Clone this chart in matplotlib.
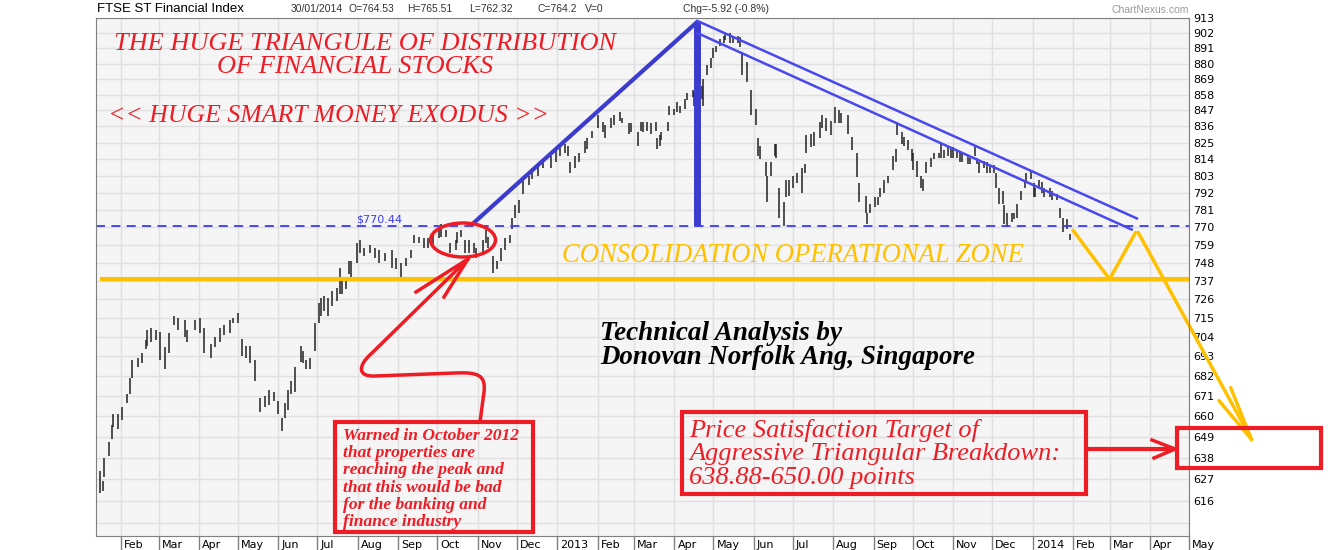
import matplotlib
matplotlib.use("Agg")
import matplotlib.pyplot as plt
import matplotlib.dates as mdates
import pandas as pd
from matplotlib.ticker import FixedLocator, NullLocator, FuncFormatter
from matplotlib.patches import Ellipse, Rectangle, PathPatch
from matplotlib.path import Path
from matplotlib.transforms import ScaledTranslation

# price bars (high / low per bar)
dates = [
    "2012-01-13", "2012-01-16", "2012-01-18", "2012-01-19", "2012-01-23", "2012-01-25", "2012-01-26", "2012-01-30",
    "2012-02-02", "2012-02-06", "2012-02-08", "2012-02-10", "2012-02-14", "2012-02-17", "2012-02-20", "2012-02-21", "2012-02-24", "2012-02-28",
    "2012-03-02", "2012-03-06", "2012-03-09", "2012-03-13", "2012-03-16", "2012-03-21", "2012-03-23", "2012-03-29",
    "2012-04-02", "2012-04-05", "2012-04-10", "2012-04-13", "2012-04-17", "2012-04-20", "2012-04-25", "2012-04-27",
    "2012-05-01", "2012-05-04", "2012-05-07", "2012-05-10", "2012-05-14", "2012-05-18", "2012-05-22", "2012-05-25", "2012-05-29",
    "2012-06-01", "2012-06-04", "2012-06-06", "2012-06-08", "2012-06-11", "2012-06-14", "2012-06-18", "2012-06-20", "2012-06-22", "2012-06-25", "2012-06-29",
    "2012-07-02", "2012-07-04", "2012-07-06", "2012-07-09", "2012-07-12", "2012-07-16", "2012-07-18", "2012-07-20", "2012-07-23", "2012-07-25", "2012-07-27", "2012-07-31",
    "2012-08-03", "2012-08-06", "2012-08-10", "2012-08-14", "2012-08-17", "2012-08-22", "2012-08-27", "2012-08-30",
    "2012-09-03", "2012-09-07", "2012-09-11", "2012-09-13", "2012-09-17", "2012-09-21", "2012-09-24", "2012-09-28",
    "2012-10-02", "2012-10-04", "2012-10-08", "2012-10-11", "2012-10-15", "2012-10-16", "2012-10-19", "2012-10-22", "2012-10-25", "2012-10-29", "2012-10-31",
    "2012-11-05", "2012-11-07", "2012-11-09", "2012-11-13", "2012-11-16", "2012-11-19", "2012-11-22", "2012-11-26", "2012-11-27", "2012-11-30",
    "2012-12-03", "2012-12-06", "2012-12-10", "2012-12-13", "2012-12-17", "2012-12-21", "2012-12-27", "2012-12-31",
    "2013-01-03", "2013-01-07", "2013-01-09", "2013-01-11", "2013-01-15", "2013-01-18", "2013-01-22", "2013-01-24", "2013-01-28",
    "2013-02-01", "2013-02-05", "2013-02-07", "2013-02-11", "2013-02-14", "2013-02-18", "2013-02-20", "2013-02-25", "2013-02-27",
    "2013-03-04", "2013-03-06", "2013-03-08", "2013-03-11", "2013-03-14", "2013-03-18", "2013-03-19", "2013-03-21", "2013-03-22", "2013-03-27", "2013-03-28",
    "2013-04-01", "2013-04-03", "2013-04-05", "2013-04-09", "2013-04-11", "2013-04-15", "2013-04-16", "2013-04-22", "2013-04-23", "2013-04-26", "2013-04-29",
    "2013-05-01", "2013-05-03", "2013-05-06", "2013-05-09", "2013-05-10", "2013-05-14", "2013-05-16", "2013-05-20", "2013-05-21", "2013-05-23", "2013-05-27", "2013-05-30",
    "2013-06-03", "2013-06-04", "2013-06-06", "2013-06-10", "2013-06-11", "2013-06-14", "2013-06-17", "2013-06-18", "2013-06-20", "2013-06-24", "2013-06-26", "2013-06-28",
    "2013-07-01", "2013-07-04", "2013-07-08", "2013-07-10", "2013-07-11", "2013-07-15", "2013-07-17", "2013-07-22", "2013-07-23", "2013-07-26", "2013-07-30",
    "2013-08-02", "2013-08-05", "2013-08-07", "2013-08-12", "2013-08-15", "2013-08-19", "2013-08-21", "2013-08-26", "2013-08-27", "2013-08-29",
    "2013-09-02", "2013-09-04", "2013-09-06", "2013-09-09", "2013-09-12", "2013-09-16", "2013-09-18", "2013-09-19", "2013-09-23", "2013-09-24", "2013-09-27", "2013-09-30",
    "2013-10-01", "2013-10-04", "2013-10-07", "2013-10-09", "2013-10-11", "2013-10-15", "2013-10-17", "2013-10-21", "2013-10-23", "2013-10-25", "2013-10-28", "2013-10-30",
    "2013-11-01", "2013-11-04", "2013-11-06", "2013-11-08", "2013-11-12", "2013-11-14", "2013-11-18", "2013-11-19", "2013-11-21", "2013-11-25", "2013-11-27", "2013-11-29",
    "2013-12-02", "2013-12-04", "2013-12-06", "2013-12-09", "2013-12-10", "2013-12-12", "2013-12-16", "2013-12-18", "2013-12-20", "2013-12-23", "2013-12-26", "2013-12-27", "2013-12-31",
    "2014-01-02", "2014-01-03", "2014-01-06", "2014-01-08", "2014-01-10", "2014-01-14", "2014-01-16", "2014-01-20", "2014-01-22", "2014-01-24", "2014-01-27", "2014-01-30",
]
highs = [
    621, 631, 626, 638, 646, 655, 661, 661,
    665, 672, 681, 691, 692, 695, 702, 708, 709, 708,
    707, 698, 706, 716, 715, 714, 708, 714,
    715, 709, 700, 704, 709, 711, 714, 715,
    718, 703, 699, 699, 691, 670, 671, 674, 673,
    668, 659, 667, 674, 679, 687, 699, 696, 691, 692, 712,
    724, 727, 728, 727, 731, 733, 745, 739, 738, 749, 749, 760,
    762, 757, 759, 757, 756, 754, 756, 751,
    748, 751, 756, 765, 764, 763, 763, 766,
    769, 772, 768, 760, 762, 767, 768, 762, 762, 760, 757,
    762, 768, 764, 752, 749, 757, 763, 765, 776, 784,
    787, 800, 803, 808, 810, 814, 816, 821,
    823, 824, 823, 812, 816, 818, 826, 828, 833,
    844, 839, 837, 842, 844, 846, 842, 838, 838,
    832, 839, 839, 839, 838, 839, 828, 830, 832, 839, 850,
    848, 853, 850, 855, 859, 861, 860, 864, 869, 879, 884,
    891, 893, 898, 900, 902, 902, 900, 900, 899, 888, 881, 861,
    848, 828, 823, 812, 803, 812, 824, 824, 795, 786, 800, 800,
    803, 805, 808, 811, 830, 831, 832, 839, 844, 842, 840,
    849, 847, 845, 844, 829, 818, 798, 790, 779, 785,
    789, 789, 795, 800, 803, 816, 821, 839, 832, 829, 827, 821,
    818, 813, 803, 801, 812, 815, 818, 818, 824, 820, 822, 821,
    822, 820, 818, 818, 816, 815, 823, 815, 812, 813, 812, 810,
    810, 805, 795, 793, 784, 779, 779, 779, 785, 793, 800, 805, 807,
    798, 795, 800, 799, 795, 795, 793, 791, 782, 776, 775, 766,
]
lows = [
    614, 620, 621, 628, 639, 648, 654, 653,
    658, 667, 672, 681, 687, 689, 697, 699, 701, 702,
    691, 686, 695, 711, 708, 704, 701, 708,
    706, 695, 692, 698, 701, 705, 706, 712,
    712, 693, 692, 689, 679, 662, 665, 666, 668,
    661, 652, 659, 663, 672, 673, 690, 689, 686, 686, 696,
    712, 716, 719, 716, 722, 725, 729, 729, 732, 741, 739, 748,
    754, 752, 754, 751, 748, 749, 745, 744,
    739, 746, 751, 760, 760, 757, 757, 757,
    763, 764, 764, 754, 756, 760, 764, 754, 754, 754, 751,
    754, 760, 757, 742, 744, 749, 756, 760, 769, 776,
    779, 791, 797, 801, 803, 808, 808, 812,
    816, 818, 816, 805, 808, 812, 818, 821, 828,
    835, 832, 828, 835, 837, 840, 838, 831, 832,
    823, 833, 832, 833, 831, 833, 821, 823, 827, 833, 844,
    844, 846, 845, 848, 854, 856, 850, 855, 850, 872, 877,
    884, 888, 893, 895, 897, 895, 895, 895, 892, 872, 867, 844,
    837, 816, 814, 803, 786, 803, 816, 815, 776, 771, 789, 790,
    795, 798, 792, 805, 818, 822, 823, 828, 835, 833, 830,
    838, 838, 838, 831, 820, 802, 786, 779, 772, 779,
    783, 784, 789, 792, 798, 807, 812, 830, 824, 823, 820, 813,
    807, 802, 795, 793, 805, 809, 814, 815, 815, 815, 816, 815,
    815, 815, 812, 812, 811, 811, 816, 811, 805, 808, 805, 805,
    805, 795, 785, 785, 772, 770, 773, 775, 776, 787, 795, 799, 801,
    789, 789, 795, 792, 789, 789, 787, 787, 776, 767, 769, 762,
]

resistance = 770.44
zone_floor = 738
y_ticks = list(range(605, 914, 11))

# hand drawn trend lines: (date, level)
rise_line = [("2012-10-28", 772), ("2013-04-18", 910)]
upper_line = [("2013-04-19", 911), ("2014-03-22", 775.5)]
lower_line = [("2013-04-19", 902), ("2014-03-18", 768.5)]
projection = [("2014-02-01", 768), ("2014-03-01", 738), ("2014-03-21", 766.7)]
breakdown = [("2014-03-23", 766.7), ("2014-06-18", 647.5)]
breakdown_heads = [("2014-05-24", 668.4), ("2014-06-02", 675.5)]

W, H = 1331, 550
fig = plt.figure(figsize=(W / 100, H / 100), dpi=100)
ax = fig.add_axes([96 / W, 1 - 535.5 / H, (1189 - 96) / W, (535.5 - 17.5) / H])
ax.set_facecolor("#F5F5F5")
ax.set_axisbelow(True)


def P(x, y):
    # pixel position in the picture -> figure fraction
    return (x / W, 1 - y / H)


def D(s):
    return pd.Timestamp(s)


ax.vlines(pd.to_datetime(dates), lows, highs, color="#222222", lw=1.1)

ax.set_yscale("log")
ax.set_ylim(598.7, 913.7)
ax.set_xlim(D("2012-01-13"), D("2014-05-01"))

ax.yaxis.tick_right()
ax.yaxis.set_major_locator(FixedLocator(y_ticks))
ax.yaxis.set_minor_locator(NullLocator())
ax.yaxis.set_major_formatter(FuncFormatter(lambda v, p: "" if v < 610 else "%d" % v))
ax.tick_params(axis="y", length=0, pad=3, labelsize=8)

ax.xaxis.set_major_locator(mdates.MonthLocator())
ax.xaxis.set_major_formatter(FuncFormatter(
    lambda v, p: (str(mdates.num2date(v).year) if mdates.num2date(v).month == 1
                  else mdates.num2date(v).strftime("%b"))))
ax.tick_params(axis="x", direction="out", length=10, width=1, color="#808080",
               pad=-7, labelsize=8)
for lab in ax.get_xticklabels():
    lab.set_horizontalalignment("left")
    lab.set_transform(lab.get_transform() + ScaledTranslation(3 / 100, 0, fig.dpi_scale_trans))

ax.grid(True, color="#E0E0E0", lw=1)
for s in ax.spines.values():
    s.set_color("#808080")

# resistance and zone floor
ax.axhline(resistance, color="#3A3AF5", lw=1.3, ls=(0, (5, 3.5)))
ax.text(D("2012-07-31"), resistance + 2.5, "$%.2f" % resistance, color="#3A3AF5", fontsize=8)
ax.hlines(zone_floor, D("2012-01-16"), D("2014-05-01"), color="#FFC000", lw=3)

# triangle lines
ax.plot([D(a) for a, b in rise_line], [b for a, b in rise_line], color="#3B3BCF", lw=3)
ax.vlines(D(rise_line[1][0]), resistance, rise_line[1][1], color="#3B3BCF", lw=5)
ax.plot([D(a) for a, b in upper_line], [b for a, b in upper_line], color="#4848EE", lw=1.8)
ax.plot([D(a) for a, b in lower_line], [b for a, b in lower_line], color="#4848EE", lw=1.8)

# projected path (yellow)
ax.plot([D(a) for a, b in projection], [b for a, b in projection], color="#FFC000", lw=2.5,
        solid_capstyle="round")
ax.plot([D(a) for a, b in breakdown], [b for a, b in breakdown], color="#FFC000", lw=2.5,
        clip_on=False, solid_capstyle="round")
for a, b in breakdown_heads:
    ax.plot([D(a), D(breakdown[1][0])], [b, breakdown[1][1]], color="#FFC000", lw=2.5,
            clip_on=False, solid_capstyle="round")

RED = "#EE1C25"
tf = fig.transFigure
serif = "Liberation Serif"

# header
fig.text(*P(97, 9), "FTSE ST Financial Index", fontsize=9.5, va="center", family="Liberation Sans")
for xx, t in [(291, "30/01/2014"), (349, "O=764.53"), (407, "H=765.51"), (469, "L=762.32"),
              (538, "C=764.2"), (585, "V=0"), (683, "Chg=-5.92 (-0.8%)")]:
    fig.text(*P(xx, 9), t, fontsize=7.5, va="center", color="#333333", family="Liberation Sans")
fig.text(*P(1189, 10), "ChartNexus.com", fontsize=7.5, va="center", ha="right",
         color="#999999", family="Liberation Sans")

# titles
fig.text(*P(365, 44), "THE HUGE TRIANGULE OF DISTRIBUTION", color=RED, fontsize=19,
         style="italic", family=serif, ha="center", va="center")
fig.text(*P(355, 67), "OF FINANCIAL STOCKS", color=RED, fontsize=19,
         style="italic", family=serif, ha="center", va="center")
fig.text(*P(328, 116), "<< HUGE SMART MONEY EXODUS >>", color=RED, fontsize=18.5,
         style="italic", family=serif, ha="center", va="center")
fig.text(*P(562, 256), "CONSOLIDATION OPERATIONAL ZONE", color="#FFC000", fontsize=19.2,
         style="italic", family=serif, va="center")
fig.text(*P(600, 333), "Technical Analysis by", color="black", fontsize=19.5,
         style="italic", weight="bold", family=serif, va="center")
fig.text(*P(600, 357), "Donovan Norfolk Ang, Singapore", color="black", fontsize=19.4,
         style="italic", weight="bold", family=serif, va="center")

# warning box with curved arrow
fig.patches.append(Rectangle(P(335, 532), 198 / W, 110 / H, transform=tf, fill=False,
                             ec=RED, lw=3))
warn = ["Warned in October 2012", "that properties are", "reaching the peak and",
        "that this would be bad", "for the banking and", "finance industry"]
for i, t in enumerate(warn):
    fig.text(*P(343, 436 + i * 17.2), t, color=RED, fontsize=12.6, style="italic",
             weight="bold", family=serif, va="center")

fig.patches.append(Ellipse(P(463, 240), 65 / W, 34 / H, transform=tf, fill=False, ec=RED, lw=2.5))
verts = [P(480, 422), P(484, 392), P(486, 375), P(478, 372), P(455, 373), P(375, 376),
         P(358, 377), P(357, 366), P(372, 353), P(468, 259)]
codes = [Path.MOVETO, Path.LINETO, Path.CURVE4, Path.CURVE4, Path.CURVE4, Path.LINETO,
         Path.CURVE4, Path.CURVE4, Path.CURVE4, Path.LINETO]
fig.patches.append(PathPatch(Path(verts, codes), transform=tf, fill=False, ec=RED, lw=2.5))
for hx, hy in [(416, 292), (444, 297)]:
    fig.add_artist(plt.Line2D(*zip(P(hx, hy), P(468, 259)), transform=tf, color=RED, lw=2.5))

# price target box and arrow
fig.patches.append(Rectangle(P(682, 494), 404 / W, 82 / H, transform=tf, fill=False,
                             ec=RED, lw=3))
target = ["Price Satisfaction Target of", "Aggressive Triangular Breakdown:",
          "638.88-650.00 points"]
for i, t in enumerate(target):
    fig.text(*P(689, 430 + i * 24), t, color=RED, fontsize=19, style="italic",
             family=serif, va="center")
fig.add_artist(plt.Line2D(*zip(P(1087, 449), P(1175, 449)), transform=tf, color=RED, lw=3))
for hx, hy in [(1152, 440), (1154, 458)]:
    fig.add_artist(plt.Line2D(*zip(P(hx, hy), P(1175, 449)), transform=tf, color=RED, lw=2.5))
fig.patches.append(Rectangle(P(1177, 468), 144 / W, 40 / H, transform=tf, fill=False,
                             ec=RED, lw=3, zorder=5))

fig.savefig("out.png", dpi=100, facecolor="white")
